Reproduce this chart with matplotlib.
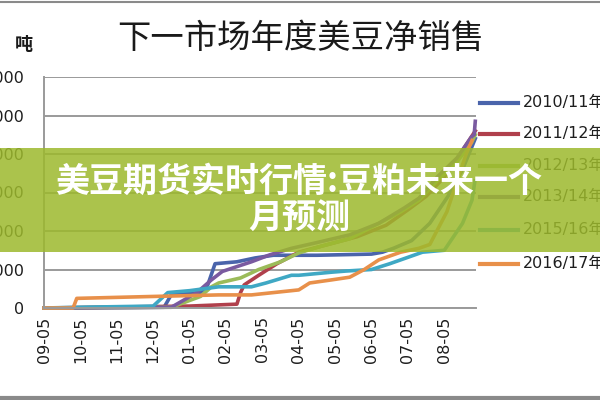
import matplotlib
matplotlib.use("Agg")
import matplotlib.pyplot as plt
from matplotlib.lines import Line2D
from matplotlib.patches import Rectangle

plt.rcParams['font.family'] = ['DejaVu Sans', 'Noto Sans CJK SC']

title = "下一市场年度美豆净销售"
unit = "吨"
banner_lines = ["美豆期货实时行情:豆粕未来一个", "月预测"]

x_labels = ["09-05", "10-05", "11-05", "12-05", "01-05", "02-05",
            "03-05", "04-05", "05-05", "06-05", "07-05", "08-05"]
y_ticks = [0, 1000000, 2000000, 3000000, 4000000, 5000000, 6000000]

series_names = ["2010/11年度", "2011/12年度", "2012/13年度",
                "2013/14年度", "2015/16年度", "2016/17年度"]
colors = ["#4a64ab", "#b0404c", "#9bbb59", "#7a5aa0", "#3fa8c4", "#e8904a"]

# x in months after 09-05, values in tonnes
m_1011 = [0, 3.3, 3.5, 4.3, 4.5, 4.7, 5.3, 5.8, 6.3, 7.5, 9.0, 9.3, 9.6, 10.1, 10.6, 11.1, 11.5, 11.85]
v_1011 = [0, 20000, 350000, 400000, 600000, 1150000, 1200000, 1300000, 1370000, 1370000,
          1400000, 1450000, 1550000, 1750000, 2200000, 2900000, 3600000, 4400000]

m_1112 = [0, 4.0, 5.3, 5.4, 5.5, 5.9, 6.4, 7.0, 7.8, 8.6, 9.4, 10.0, 10.5, 11.0, 11.4, 11.85]
v_1112 = [0, 50000, 100000, 400000, 600000, 850000, 1150000, 1450000, 1650000, 1850000,
          2150000, 2550000, 2900000, 3400000, 3950000, 4600000]

m_1213 = [0, 3.5, 4.3, 4.6, 4.8, 5.4, 5.9, 6.5, 7.0, 7.6, 8.4, 9.0, 9.8, 10.3, 10.8, 11.35, 11.75, 11.85]
v_1213 = [0, 20000, 300000, 550000, 650000, 780000, 1000000, 1200000, 1430000, 1600000,
          1800000, 2100000, 2500000, 2800000, 3300000, 3800000, 4300000, 4500000]

m_1314 = [0, 3.5, 4.2, 4.6, 4.9, 5.7, 6.2, 6.8, 7.5, 8.4, 9.2, 9.9, 10.3, 10.8, 11.35, 11.75, 11.82, 11.85]
v_1314 = [0, 20000, 400000, 730000, 950000, 1200000, 1380000, 1550000, 1700000, 1900000,
          2200000, 2600000, 2850000, 3400000, 3900000, 4450000, 4500000, 4850000]

m_1516 = [0, 1.0, 3.0, 3.4, 4.0, 4.8, 5.7, 6.1, 6.8, 7.0, 7.9, 8.3, 9.0, 9.5, 9.8, 10.4, 11.0, 11.5, 11.76, 11.84]
v_1516 = [0, 20000, 50000, 400000, 450000, 550000, 550000, 650000, 850000, 850000,
          930000, 960000, 1000000, 1150000, 1250000, 1450000, 1500000, 2200000, 2800000, 3300000]

m_1617 = [0, 0.8, 0.9, 3.0, 4.8, 5.7, 6.1, 7.0, 7.3, 7.9, 8.4, 8.8, 9.2, 9.8, 10.3, 10.6, 11.07, 11.35, 11.6, 11.76]
v_1617 = [0, 0, 250000, 300000, 340000, 340000, 380000, 470000, 650000, 730000,
          800000, 1000000, 1250000, 1450000, 1550000, 1650000, 2500000, 3300000, 4000000, 4350000]

all_m = [m_1011, m_1112, m_1213, m_1314, m_1516, m_1617]
all_v = [v_1011, v_1112, v_1213, v_1314, v_1516, v_1617]

W, H = 600, 400
fig = plt.figure(figsize=(6, 4), dpi=100)
fig.patch.set_facecolor("white")

ax = fig.add_axes([44 / W, 1 - 308 / H, (476 - 44) / W, (308 - 77) / H])
ax.set_xlim(0, 11.87)
ax.set_ylim(0, 6000000)
ax.set_yticks(y_ticks)
ax.set_yticklabels([str(t) for t in y_ticks], fontsize=11.5, color="#1e1e1e")
ax.set_xticks(range(len(x_labels)))
ax.set_xticklabels(x_labels, rotation=90, fontsize=11.5, color="#1e1e1e")
ax.tick_params(length=0, pad=14, axis="y")
ax.tick_params(length=0, pad=6, axis="x")
ax.grid(axis="y", color="#9a9a9a", linewidth=1.4)
ax.set_axisbelow(True)
for s in ["top", "right"]:
    ax.spines[s].set_visible(False)
ax.spines["left"].set_color("#9a9a9a")
ax.spines["bottom"].set_color("#9a9a9a")
ax.spines["left"].set_linewidth(1.4)
ax.spines["bottom"].set_linewidth(1.4)

for m, v, c in zip(all_m, all_v, colors):
    ax.plot(m, v, color=c, linewidth=2.6, solid_joinstyle="round", clip_on=False)

# title and unit
fig.text(301 / W, 1 - 38 / H, title, ha="center", va="center", fontsize=24,
         family=["Noto Sans CJK SC"], color="#1a1a1a")
fig.text(24 / W, 1 - 44 / H, unit, ha="center", va="center", fontsize=13,
         family=["Noto Sans CJK SC"], fontweight="bold", color="#1a1a1a")

# legend (manual)
leg_y = [103, 134, 166, 197, 230, 264]
for name, c, yy in zip(series_names, colors, leg_y):
    fig.add_artist(Line2D([480 / W, 518 / W], [1 - yy / H, 1 - yy / H], color=c,
                          linewidth=3, transform=fig.transFigure))
    fig.text(523 / W, 1 - yy / H, name, ha="left", va="center", fontsize=11.5,
             color="#1e1e1e")

# frame lines
fig.add_artist(Line2D([0, 1], [1 - 1.5 / H, 1 - 1.5 / H], color="#8a8a8a", linewidth=1.5,
                      transform=fig.transFigure))
fig.add_artist(Line2D([0, 1], [1 - 397.5 / H, 1 - 397.5 / H], color="#8a8a8a", linewidth=3,
                      transform=fig.transFigure))

# banner overlay
fig.add_artist(Rectangle((0, 1 - 252 / H), 1, (252 - 148) / H, transform=fig.transFigure,
                         facecolor="#9db92d", alpha=0.85, edgecolor="none", zorder=10))
fig.text(299 / W, 1 - 181 / H, banner_lines[0], ha="center", va="center", fontsize=24.5,
         family=["Noto Sans CJK SC"], fontweight="bold", color="white", zorder=11)
fig.text(299 / W, 1 - 218 / H, banner_lines[1], ha="center", va="center", fontsize=24.5,
         family=["Noto Sans CJK SC"], fontweight="bold", color="white", zorder=11)

fig.savefig("out.png", dpi=100)
